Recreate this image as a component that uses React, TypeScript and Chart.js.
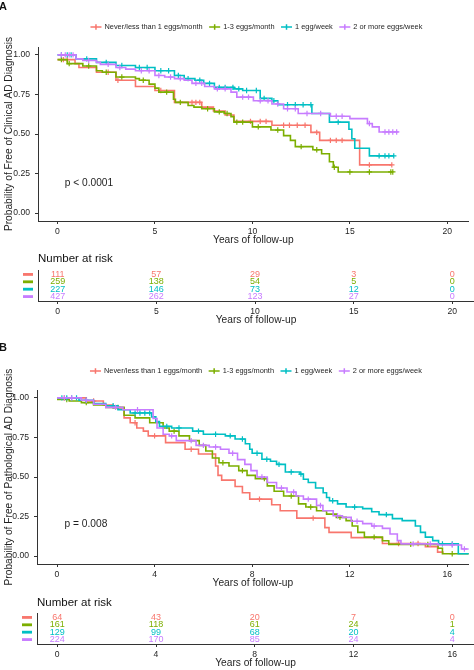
import { useEffect, useRef } from "react"
import { Chart, registerables } from "chart.js"

Chart.register(...registerables)

const FONT = "'Liberation Sans', Arial, sans-serif"
Chart.defaults.font.family = FONT

const TXT = "#1f1f1f"
const AX = "#333333"

// groups and colours (ggplot default hues)
const groups = ["Never/less than 1 eggs/month", "1-3 eggs/month", "1 egg/week", "2 or more eggs/week"]
const colors = ["#F8766D", "#7CAE00", "#00BFC4", "#C77CFF"]
const survTicks = [0, 0.25, 0.5, 0.75, 1]

// ---- Panel A: clinical AD ----
const aTicks = [0, 5, 10, 15, 20]

const aNeverT = [0, 0.9, 1.1, 2.0, 3.0, 4.0, 5.0, 6.0, 7.4, 8.0, 8.6, 9.05, 11.0, 13.0, 13.45, 15.5]
const aNeverS = [0.97, 0.945, 0.92, 0.89, 0.84, 0.8, 0.775, 0.7, 0.67, 0.645, 0.62, 0.58, 0.555, 0.51, 0.46, 0.305]
const aNeverCens = [0.3, 0.5, 2.6, 3.1, 5.3, 6.9, 7.1, 7.3, 9.9, 10.4, 10.7, 11.6, 11.9, 12.3, 12.7, 13.3, 14.0, 14.3, 14.6, 16.0, 17.15]

const aOneThreeT = [0, 0.5, 1.3, 2.0, 2.3, 3.0, 4.0, 4.2, 4.7, 5.0, 5.2, 5.95, 6.05, 6.7, 7.0, 7.4, 8.05, 8.55, 8.9, 9.05, 10.0, 10.95, 11.6, 11.95, 12.2, 13.1, 13.55, 13.95, 14.15, 14.4]
const aOneThreeS = [0.97, 0.945, 0.93, 0.9, 0.89, 0.86, 0.85, 0.84, 0.815, 0.79, 0.765, 0.72, 0.7, 0.68, 0.67, 0.66, 0.64, 0.63, 0.61, 0.575, 0.545, 0.525, 0.49, 0.46, 0.42, 0.4, 0.375, 0.325, 0.29, 0.26]
const aOneThreeCens = [0.2, 0.6, 1.6, 2.5, 3.3, 4.4, 5.6, 6.3, 7.7, 8.3, 8.7, 9.2, 9.5, 10.3, 11.3, 12.5, 13.3, 14.2, 15.0, 16.0, 17.1, 17.2]

const aWeekT = [0, 0.95, 2.0, 3.0, 4.0, 5.0, 6.0, 6.5, 7.05, 7.5, 8.05, 9.05, 9.5, 10.4, 11.0, 11.3, 13.05, 13.95, 14.95, 15.1, 15.25, 16.0]
const aWeekS = [1.0, 0.975, 0.953, 0.933, 0.92, 0.9, 0.87, 0.85, 0.84, 0.82, 0.795, 0.785, 0.775, 0.725, 0.71, 0.685, 0.63, 0.575, 0.53, 0.47, 0.41, 0.362]
const aWeekCens = [0.2, 0.5, 0.7, 1.5, 2.5, 3.3, 4.2, 4.6, 5.3, 5.7, 6.2, 6.7, 7.3, 7.8, 8.3, 8.6, 9.0, 9.3, 9.7, 10.2, 10.6, 11.1, 11.8, 12.2, 12.6, 13.0, 14.4, 16.5, 16.8, 17.0, 17.25]

const aMoreT = [0, 0.95, 1.3, 2.0, 2.2, 3.0, 3.5, 4.0, 5.0, 5.5, 6.0, 6.5, 6.9, 7.55, 8.05, 8.9, 9.2, 10.05, 11.0, 11.6, 12.35, 14.0, 15.0, 15.9, 16.15, 16.5]
const aMoreS = [1.0, 0.975, 0.965, 0.953, 0.94, 0.92, 0.91, 0.9, 0.87, 0.86, 0.85, 0.84, 0.82, 0.8, 0.785, 0.765, 0.733, 0.71, 0.69, 0.66, 0.63, 0.612, 0.597, 0.566, 0.545, 0.513]
const aMoreCens = [0.2, 0.4, 0.6, 0.8, 1.6, 2.6, 3.2, 4.3, 4.7, 5.2, 5.8, 6.3, 7.1, 7.4, 8.2, 8.6, 9.5, 9.8, 10.4, 10.8, 11.3, 11.8, 12.2, 12.8, 13.5, 14.3, 14.6, 16.0, 16.8, 17.0, 17.2, 17.4]

const aEnds = [17.15, 17.2, 17.26, 17.5]

const aRiskTimes = [0, 5, 10, 15, 20]
const aRiskNever = [111, 57, 29, 3, 0]
const aRiskOneThree = [259, 138, 54, 5, 0]
const aRiskWeek = [227, 146, 73, 12, 0]
const aRiskMore = [427, 262, 123, 27, 0]

// ---- Panel B: pathological AD ----
const bTicks = [0, 4, 8, 12, 16]

const bNeverT = [0, 1.2, 1.9, 2.3, 2.75, 3.0, 3.27, 3.54, 3.74, 4.45, 5.25, 5.8, 6.5, 6.6, 6.75, 7.3, 7.6, 7.9, 8.8, 9.15, 9.83, 10.98, 11.15, 12.06, 13.34, 15.1, 15.6]
const bNeverS = [1.0, 0.98, 0.955, 0.937, 0.874, 0.843, 0.81, 0.79, 0.76, 0.717, 0.675, 0.645, 0.57, 0.51, 0.48, 0.44, 0.4, 0.36, 0.325, 0.287, 0.24, 0.18, 0.15, 0.117, 0.08, 0.06, 0.025]
const bNeverCens = [0.3, 1.5, 3.2, 4.0, 5.5, 8.3, 10.5, 14.0, 14.8]

const bOneThreeT = [0, 0.5, 1.0, 1.5, 2.0, 2.75, 3.2, 3.8, 4.35, 4.6, 5.0, 5.43, 5.83, 6.1, 6.37, 6.64, 7.05, 7.45, 7.79, 8.13, 8.62, 8.9, 9.29, 9.9, 10.2, 10.64, 11.05, 11.45, 11.85, 12.1, 12.33, 12.6, 13.34, 13.6, 15.62, 15.8]
const bOneThreeS = [0.99, 0.98, 0.97, 0.955, 0.94, 0.89, 0.874, 0.843, 0.81, 0.79, 0.76, 0.73, 0.7, 0.664, 0.62, 0.59, 0.57, 0.54, 0.51, 0.49, 0.444, 0.41, 0.38, 0.33, 0.31, 0.287, 0.265, 0.245, 0.224, 0.19, 0.15, 0.12, 0.097, 0.074, 0.05, 0.015]
const bOneThreeCens = [0.4, 1.2, 2.5, 4.8, 6.8, 7.6, 8.5, 9.6, 10.4, 11.6, 13.0, 14.5, 15.2, 16.2]

const bWeekT = [0, 0.9, 1.5, 2.0, 2.5, 3.0, 3.88, 4.05, 4.2, 4.7, 5.56, 6.0, 6.9, 7.3, 7.72, 7.9, 8.0, 8.4, 8.75, 9.0, 9.36, 9.96, 10.1, 10.3, 10.6, 10.91, 11.05, 11.17, 11.5, 11.85, 12.53, 12.9, 13.2, 13.75, 14.15, 14.69, 14.9, 15.1, 15.4, 15.64, 16.45]
const bWeekS = [1.0, 0.985, 0.965, 0.95, 0.925, 0.905, 0.88, 0.85, 0.82, 0.81, 0.79, 0.77, 0.76, 0.74, 0.71, 0.675, 0.65, 0.612, 0.6, 0.58, 0.532, 0.518, 0.486, 0.465, 0.43, 0.4, 0.37, 0.35, 0.33, 0.31, 0.3, 0.28, 0.262, 0.237, 0.224, 0.19, 0.15, 0.12, 0.098, 0.077, 0.015]
const bWeekCens = [0.2, 0.4, 0.6, 0.8, 1.2, 2.3, 3.2, 3.4, 3.6, 3.8, 4.5, 5.0, 5.8, 6.5, 7.1, 7.6, 8.2, 8.6, 9.1, 9.6, 10.0, 11.3, 12.2, 13.5, 15.8, 16.2]

const bMoreT = [0, 1.0, 1.5, 2.0, 2.7, 3.94, 4.1, 4.35, 4.6, 4.89, 5.7, 6.24, 6.7, 7.05, 7.4, 7.7, 7.95, 8.2, 8.62, 9.0, 9.43, 9.8, 10.1, 10.64, 10.9, 11.32, 11.7, 12.06, 12.53, 12.9, 13.34, 13.65, 13.95, 14.1, 15.62, 16.58]
const bMoreS = [1.0, 0.985, 0.96, 0.94, 0.925, 0.87, 0.81, 0.77, 0.76, 0.73, 0.7, 0.69, 0.675, 0.65, 0.61, 0.58, 0.54, 0.5, 0.465, 0.43, 0.405, 0.38, 0.36, 0.32, 0.287, 0.255, 0.245, 0.22, 0.205, 0.19, 0.175, 0.14, 0.098, 0.077, 0.07, 0.045]
const bMoreCens = [0.3, 0.6, 1.2, 2.4, 3.3, 4.7, 5.5, 6.0, 6.5, 7.2, 8.4, 9.2, 9.7, 10.3, 10.8, 11.5, 12.3, 13.0, 14.6, 15.3, 16.2, 16.7]

const bEnds = [15.85, 16.88, 16.88, 16.88]

const bRiskTimes = [0, 4, 8, 12, 16]
const bRiskNever = [64, 43, 20, 7, 0]
const bRiskOneThree = [161, 118, 61, 24, 1]
const bRiskWeek = [129, 99, 68, 20, 4]
const bRiskMore = [224, 170, 85, 24, 4]

function survAt(t: number[], s: number[], x: number) {
  let v = s[0]
  for (let i = 0; i < t.length; i++) if (t[i] <= x) v = s[i]
  return v
}

function xScale(min: number, max: number, ticks: number[], height: number, title: string) {
  return {
    type: "linear",
    min,
    max,
    afterBuildTicks: (s: any) => {
      s.ticks = ticks.map((v) => ({ value: v }))
    },
    afterFit: (s: any) => {
      s.height = height
    },
    ticks: { font: { size: 8.6 }, color: TXT, padding: 2, maxRotation: 0, callback: (v: any) => String(v) },
    grid: { drawOnChartArea: false, drawTicks: true, tickLength: 3, color: AX },
    border: { display: true, color: AX, width: 1 },
    title: { display: true, text: title, font: { size: 10.2 }, color: TXT, padding: { top: 0, bottom: 4 } },
  }
}

function KMPanel(props: any) {
  const { top, plotTop, plotBottom, axisLeft, xMin, xMax, xTicks, yTitle, letter, letterY, legendY, pval, pvalX, pvalY, times, survs, cens, ends } = props
  const height = plotBottom - top + 29
  const ref = useRef<HTMLCanvasElement>(null)

  useEffect(() => {
    if (!ref.current) return
    const datasets: any[] = []
    times.forEach((t: number[], i: number) => {
      const s = survs[i]
      const pts = t.map((x, j) => ({ x, y: s[j] }))
      pts.push({ x: ends[i], y: s[s.length - 1] })
      datasets.push({
        label: groups[i],
        data: pts,
        borderColor: colors[i],
        borderWidth: 1.6,
        pointRadius: 0,
        stepped: "before",
        fill: false,
        order: 3 - i,
      })
      datasets.push({
        label: groups[i] + " (censored)",
        data: cens[i].map((x: number) => ({ x, y: survAt(t, s, x) })),
        showLine: false,
        pointStyle: "cross",
        pointRadius: 2.7,
        borderColor: colors[i],
        borderWidth: 1.2,
        order: 3 - i,
      })
    })

    const decorations = {
      id: "decorations",
      afterDraw(chart: any) {
        const ctx = chart.ctx
        const area = chart.chartArea
        ctx.save()
        // panel letter
        ctx.fillStyle = "#111"
        ctx.font = `bold 11px ${FONT}`
        ctx.textBaseline = "middle"
        ctx.textAlign = "left"
        ctx.fillText(letter, -1, letterY - top)
        // legend
        ctx.font = `7.4px ${FONT}`
        const keyW = 11
        const keyGap = 3
        const itemGap = 6.5
        const widths = groups.map((g) => ctx.measureText(g).width)
        const total = widths.reduce((a, b) => a + b, 0) + groups.length * (keyW + keyGap) + (groups.length - 1) * itemGap
        let x = (area.left + area.right) / 2 + 3 - total / 2
        const ly = legendY - top
        groups.forEach((g, i) => {
          ctx.strokeStyle = colors[i]
          ctx.lineWidth = 1.5
          ctx.beginPath()
          ctx.moveTo(x, ly)
          ctx.lineTo(x + keyW, ly)
          ctx.moveTo(x + keyW / 2, ly - 2.7)
          ctx.lineTo(x + keyW / 2, ly + 2.7)
          ctx.stroke()
          ctx.fillStyle = TXT
          ctx.fillText(g, x + keyW + keyGap, ly)
          x += keyW + keyGap + widths[i] + itemGap
        })
        // p value
        ctx.font = `10.2px ${FONT}`
        ctx.fillStyle = TXT
        ctx.fillText(pval, chart.scales.x.getPixelForValue(pvalX), chart.scales.y.getPixelForValue(pvalY))
        ctx.restore()
      },
    }

    const chart = new Chart(ref.current, {
      type: "line",
      data: { datasets },
      options: {
        animation: false,
        responsive: false,
        layout: { padding: { top: plotTop - top, left: 0, right: 0, bottom: 0 } },
        plugins: { legend: { display: false }, tooltip: { enabled: false } },
        scales: {
          x: xScale(xMin, xMax, xTicks, 29, "Years of follow-up") as any,
          y: {
            type: "linear",
            min: -0.05,
            max: 1.05,
            afterBuildTicks: (s: any) => {
              s.ticks = survTicks.map((v) => ({ value: v }))
            },
            afterFit: (s: any) => {
              s.width = axisLeft
            },
            ticks: { font: { size: 8.6 }, color: TXT, padding: 5, callback: (v: any) => Number(v).toFixed(2) },
            grid: { drawOnChartArea: false, drawTicks: true, tickLength: 3, color: AX },
            border: { display: true, color: AX, width: 1 },
            title: { display: true, text: yTitle, font: { size: 10.2 }, color: TXT, padding: { top: 3, bottom: 0 } },
          },
        },
      },
      plugins: [decorations],
    })

    return () => chart.destroy()
  }, [])

  return (
    <canvas
      ref={ref}
      width={474}
      height={height}
      style={{ position: "absolute", left: 0, top, width: 474, height }}
    />
  )
}

function RiskTable(props: any) {
  const { top, titleY, areaTop, axisY, axisLeft, xMin, xMax, xTicks, riskTimes, risks } = props
  const height = axisY - top + 29
  const ref = useRef<HTMLCanvasElement>(null)

  useEffect(() => {
    if (!ref.current) return
    const datasets = risks.map((r: number[], i: number) => ({
      label: groups[i],
      data: riskTimes.map((t: number) => ({ x: t, y: i })),
      showLine: false,
      pointRadius: 0,
      borderColor: colors[i],
    }))

    const riskText = {
      id: "riskText",
      afterDatasetsDraw(chart: any) {
        const ctx = chart.ctx
        const area = chart.chartArea
        ctx.save()
        ctx.textBaseline = "middle"
        ctx.textAlign = "left"
        ctx.fillStyle = "#111"
        ctx.font = `11.5px ${FONT}`
        ctx.fillText("Number at risk", area.left, titleY - top)
        ctx.font = `9px ${FONT}`
        ctx.textAlign = "center"
        risks.forEach((r: number[], i: number) => {
          const meta = chart.getDatasetMeta(i)
          ctx.fillStyle = colors[i]
          meta.data.forEach((el: any, j: number) => {
            ctx.fillText(String(r[j]), el.x, el.y)
          })
          const yy = chart.scales.y.getPixelForValue(i)
          ctx.fillRect(area.left - 15, yy - 1.4, 10, 2.8)
        })
        ctx.restore()
      },
    }

    const chart = new Chart(ref.current, {
      type: "scatter",
      data: { datasets },
      options: {
        animation: false,
        responsive: false,
        layout: { padding: { top: areaTop - top, left: 0, right: 0, bottom: 0 } },
        plugins: { legend: { display: false }, tooltip: { enabled: false } },
        scales: {
          x: xScale(xMin, xMax, xTicks, 29, "Years of follow-up") as any,
          y: {
            type: "linear",
            min: -0.6,
            max: 3.6,
            reverse: true,
            afterFit: (s: any) => {
              s.width = axisLeft
            },
            ticks: { display: false },
            grid: { drawOnChartArea: false, drawTicks: false, color: AX },
            border: { display: true, color: AX, width: 1 },
          },
        },
      },
      plugins: [riskText],
    })

    return () => chart.destroy()
  }, [])

  return (
    <canvas
      ref={ref}
      width={474}
      height={height}
      style={{ position: "absolute", left: 0, top, width: 474, height }}
    />
  )
}

export default function App() {
  return (
    <div style={{ position: "fixed", left: 0, top: 0, width: 474, height: 670, background: "#fff", overflow: "hidden" }}>
      <KMPanel
        top={0}
        plotTop={47}
        plotBottom={221}
        axisLeft={38}
        xMin={-1}
        xMax={21.1}
        xTicks={aTicks}
        yTitle="Probability of Free of Clinical AD Diagnosis"
        letter="A"
        letterY={7}
        legendY={27}
        pval="p < 0.0001"
        pvalX={0.37}
        pvalY={0.19}
        times={[aNeverT, aOneThreeT, aWeekT, aMoreT]}
        survs={[aNeverS, aOneThreeS, aWeekS, aMoreS]}
        cens={[aNeverCens, aOneThreeCens, aWeekCens, aMoreCens]}
        ends={aEnds}
      />
      <RiskTable
        top={250}
        titleY={259}
        areaTop={270}
        axisY={301}
        axisLeft={38}
        xMin={-1}
        xMax={21.1}
        xTicks={aTicks}
        riskTimes={aRiskTimes}
        risks={[aRiskNever, aRiskOneThree, aRiskWeek, aRiskMore]}
      />
      <KMPanel
        top={338}
        plotTop={390}
        plotBottom={564}
        axisLeft={37}
        xMin={-0.82}
        xMax={16.88}
        xTicks={bTicks}
        yTitle="Probability of Free of Pathological AD Diagnosis"
        letter="B"
        letterY={348}
        legendY={371}
        pval="p = 0.008"
        pvalX={0.31}
        pvalY={0.2}
        times={[bNeverT, bOneThreeT, bWeekT, bMoreT]}
        survs={[bNeverS, bOneThreeS, bWeekS, bMoreS]}
        cens={[bNeverCens, bOneThreeCens, bWeekCens, bMoreCens]}
        ends={bEnds}
      />
      <RiskTable
        top={592}
        titleY={603}
        areaTop={613}
        axisY={644}
        axisLeft={37}
        xMin={-0.82}
        xMax={16.88}
        xTicks={bTicks}
        riskTimes={bRiskTimes}
        risks={[bRiskNever, bRiskOneThree, bRiskWeek, bRiskMore]}
      />
    </div>
  )
}
